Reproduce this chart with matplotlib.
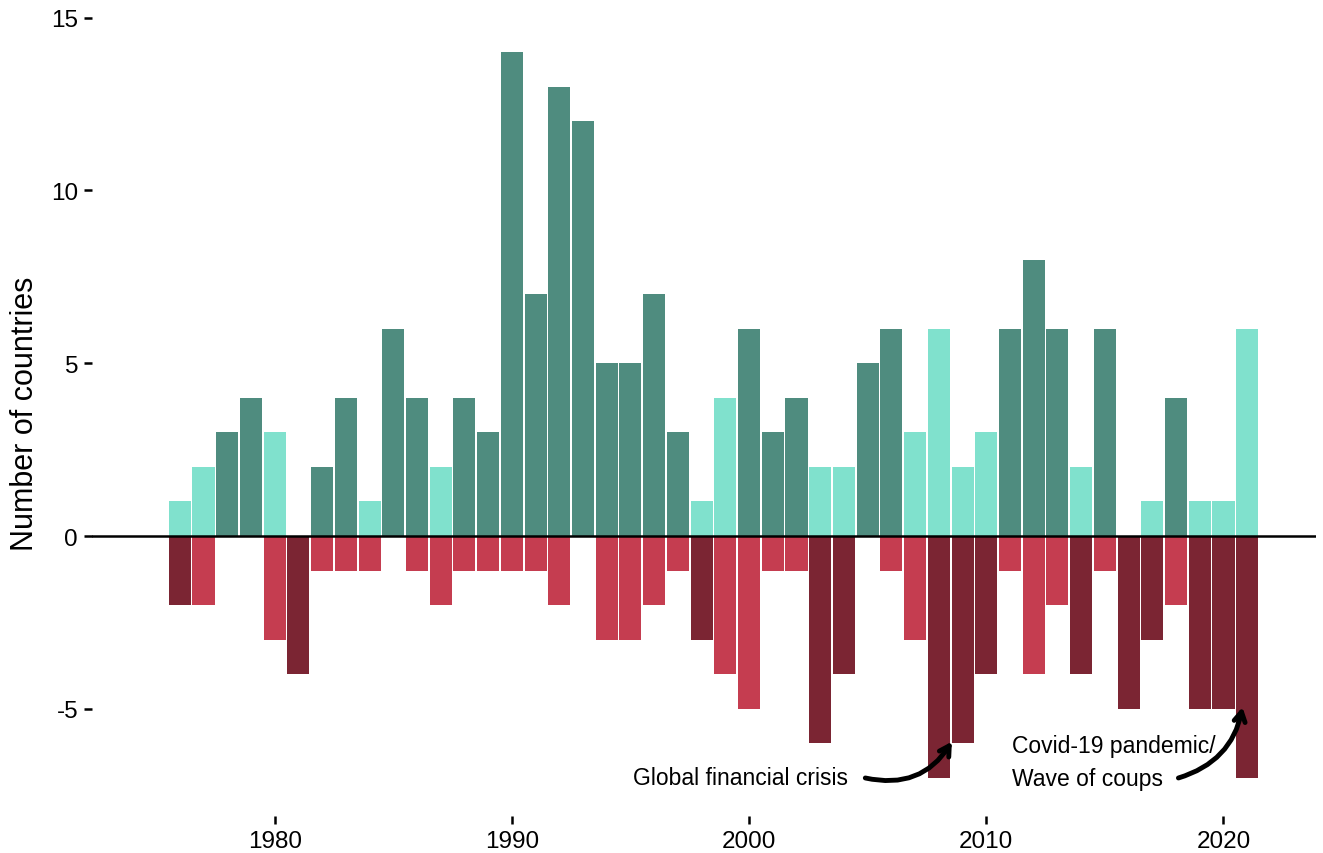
import numpy as np
import matplotlib
matplotlib.use("Agg")
import matplotlib.pyplot as plt

plt.rcParams['font.family'] = ['Liberation Sans', 'DejaVu Sans']
plt.rcParams['axes.unicode_minus'] = False

# Number of countries per year: positive (up) and negative (down) changes
years = list(range(1976, 2022))
ups = [1, 2, 3, 4, 3, 0, 2, 4, 1, 6, 4, 2, 4, 3, 14, 7, 13, 12, 5, 5, 7, 3, 1, 4,
       6, 3, 4, 2, 2, 5, 6, 3, 6, 2, 3, 6, 8, 6, 2, 6, 0, 1, 4, 1, 1, 6]
downs = [2, 2, 0, 0, 3, 4, 1, 1, 1, 0, 1, 2, 1, 1, 1, 1, 2, 0, 3, 3, 2, 1, 3, 4,
         5, 1, 1, 6, 4, 0, 1, 3, 7, 6, 4, 1, 4, 2, 4, 1, 5, 3, 2, 5, 5, 7]

up_dark, up_light = '#4f8c7f', '#80e1cd'
down_dark, down_light = '#7b2533', '#c53d50'

# the side that dominates in a year gets the strong shade
up_cols = [up_dark if u > d else up_light for u, d in zip(ups, downs)]
down_cols = [down_dark if d > u else down_light for u, d in zip(ups, downs)]

fig = plt.figure(figsize=(13.23, 8.54), dpi=100)
ax = fig.add_axes([92 / 1323, 1 - 817 / 854, (1316 - 92) / 1323, (817 - 10) / 854])

ax.bar(years, ups, width=0.93, color=up_cols, linewidth=0)
ax.bar(years, [-d for d in downs], width=0.93, color=down_cols, linewidth=0)
ax.axhline(0, color='black', lw=1.8, zorder=3)

ax.set_xlim(1972.3, 2023.9)
ax.set_ylim(-8.1, 15.25)
ax.set_yticks([-5, 0, 5, 10, 15])
ax.set_xticks([1980, 1990, 2000, 2010, 2020])
for s in ax.spines.values():
    s.set_visible(False)
ax.tick_params(axis='both', length=6, width=1.8, labelsize=17.5, color='black', pad=4)
ax.set_ylabel('Number of countries', fontsize=22, labelpad=8)

# annotations
arrow = dict(arrowstyle='->,head_length=0.7,head_width=0.4', lw=3.5, color='black',
             shrinkA=0, shrinkB=0)
ax.text(2004.15, -7.0, 'Global financial crisis', ha='right', va='center', fontsize=16.5)
ax.annotate('', xy=(2008.55, -5.95), xytext=(2004.9, -7.0),
            arrowprops=dict(arrow, connectionstyle='arc3,rad=0.35'))
ax.text(2011.1, -6.55, 'Covid-19 pandemic/\nWave of coups', ha='left', va='center',
        fontsize=16.5, linespacing=1.55)
ax.annotate('', xy=(2020.8, -4.95), xytext=(2018.1, -7.0),
            arrowprops=dict(arrow, connectionstyle='arc3,rad=0.3'))

fig.savefig('out.png', dpi=100)
